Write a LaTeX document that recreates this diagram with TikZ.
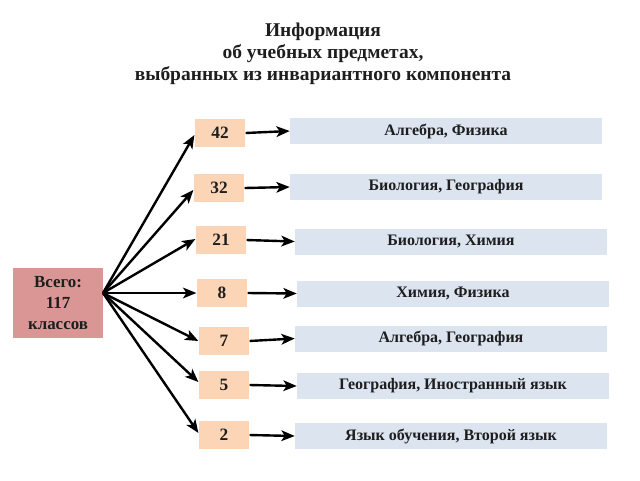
\documentclass[tikz,border=0pt]{standalone}
\usepackage{fontspec}
\setmainfont{Liberation Serif}
\usetikzlibrary{arrows.meta}
\definecolor{pinkbox}{RGB}{217,150,148}
\definecolor{peach}{RGB}{251,213,181}
\definecolor{bluebox}{RGB}{220,228,240}
\definecolor{txt}{RGB}{30,30,30}
\tikzset{
  total/.style={fill=pinkbox, inner sep=0pt, minimum width=67.5pt, minimum height=52.5pt, align=center, font=\bfseries\fontsize{12.7}{15.5}\selectfont, text=txt},
  numbox/.style={fill=peach, inner sep=0pt, minimum width=38pt, minimum height=20.5pt, font=\bfseries\fontsize{13}{14}\selectfont, text=txt},
  subj/.style={fill=bluebox, inner sep=0pt, minimum width=234pt, minimum height=19.5pt, font=\bfseries\fontsize{12}{13}\selectfont, text=txt},
  arr/.style={line width=1.8pt, -{Stealth[length=10pt,width=8pt,inset=2.5pt]}, black},
}
\begin{document}
\begin{tikzpicture}[x=0.75pt,y=-0.75pt]
\useasboundingbox (0,0) rectangle (640,480);
\node[align=center, font=\bfseries\fontsize{14.6}{16.5}\selectfont, text=txt] (title) at (323,54)
  {Информация\\об учебных предметах,\\выбранных из инвариантного компонента};
\node[total] (all) at (58,303) {Всего:\\117\\классов};
\coordinate (apex) at (103,293);
\node[numbox] (n42) at (220,133) {42};
\node[numbox] (n32) at (219,188) {32};
\node[numbox] (n21) at (221,240) {21};
\node[numbox] (n8) at (222,293) {8};
\node[numbox] (n7) at (224,341) {7};
\node[numbox] (n5) at (224,385) {5};
\node[numbox] (n2) at (224,435) {2};
\node[subj] (s1) at (446,131) {Алгебра, Физика};
\node[subj] (s2) at (446,187) {Биология, География};
\node[subj] (s3) at (451,241.5) {Биология, Химия};
\node[subj] (s4) at (453,293.5) {Химия, Физика};
\node[subj] (s5) at (451,338.5) {Алгебра, География};
\node[subj] (s6) at (453,386) {География, Иностранный язык};
\node[subj] (s7) at (451,436) {Язык обучения, Второй язык};
\draw[arr] (apex) -- (n42.west |- 0,135);
\draw[arr] (apex) -- (n32.west |- 0,190);
\draw[arr] (apex) -- (n21.west |- 0,239);
\draw[arr] (apex) -- (n8.west);
\draw[arr] (apex) -- (n7.west |- 0,341);
\draw[arr] (apex) -- (n5.west |- 0,382);
\draw[arr] (apex) -- (n2.west |- 0,433);
\draw[arr] (n42.east) -- (s1.west);
\draw[arr] (n32.east) -- (s2.west);
\draw[arr] (n21.east) -- (s3.west);
\draw[arr] (n8.east) -- (s4.west);
\draw[arr] (n7.east) -- (s5.west);
\draw[arr] (n5.east) -- (s6.west);
\draw[arr] (n2.east) -- (s7.west);
\end{tikzpicture}
\end{document}
